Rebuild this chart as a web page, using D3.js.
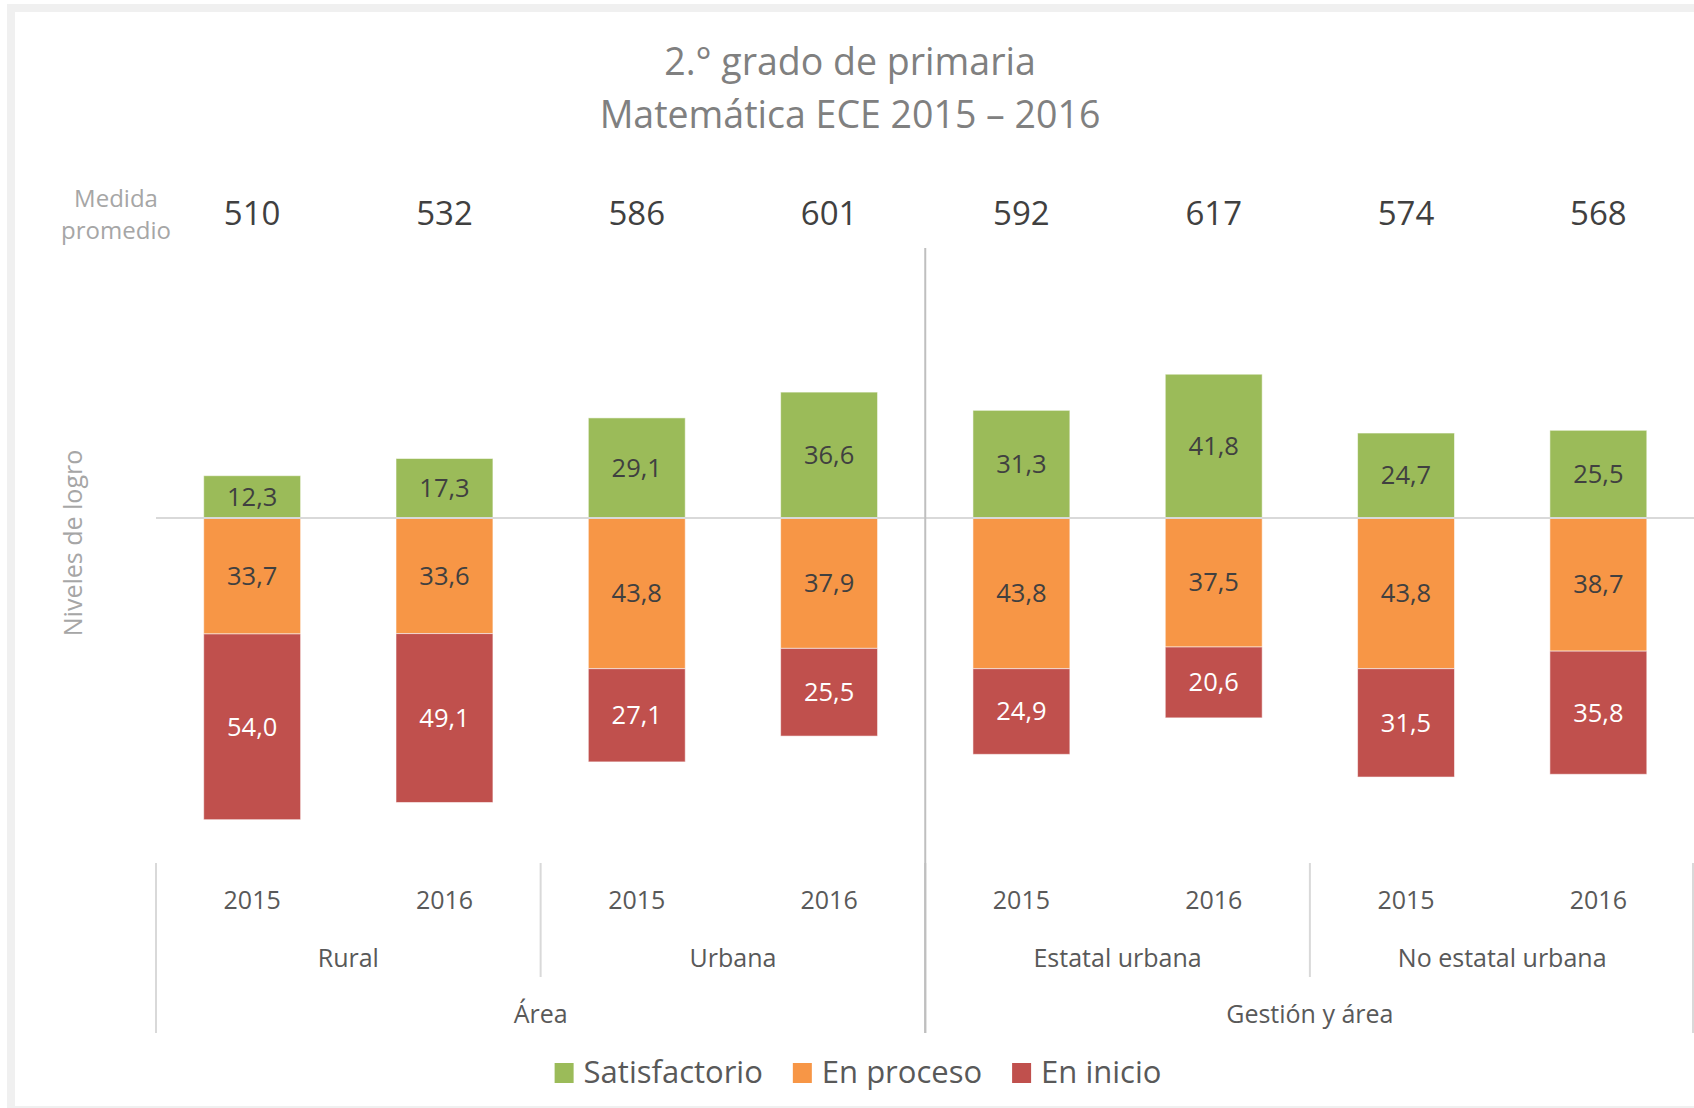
<!DOCTYPE html>
<html>
<head>
<meta charset="utf-8">
<script src="https://cdn.jsdelivr.net/npm/d3@7"></script>
<style>
  body { margin: 0; background: #fff; }
  text { font-family: "Open Sans", "Noto Sans", sans-serif; }
</style>
</head>
<body>
<div id="chart"></div>
<script>
// data
const years = ["2015", "2016", "2015", "2016", "2015", "2016", "2015", "2016"]
const subGroups = ["Rural", "Urbana", "Estatal urbana", "No estatal urbana"]
const topGroups = ["Área", "Gestión y área"]
const medida = [510, 532, 586, 601, 592, 617, 574, 568]
const satisfactorio = [12.3, 17.3, 29.1, 36.6, 31.3, 41.8, 24.7, 25.5]
const enProceso = [33.7, 33.6, 43.8, 37.9, 43.8, 37.5, 43.8, 38.7]
const enInicio = [54.0, 49.1, 27.1, 25.5, 24.9, 20.6, 31.5, 35.8]
const seriesNames = ["Satisfactorio", "En proceso", "En inicio"]
const colors = ["#9bbb59", "#f79646", "#c0504d"]

const W = 1694, H = 1108
const svg = d3.select("#chart").append("svg")
    .attr("width", W).attr("height", H)

// frame of the chart area (cut at right and bottom)
svg.append("rect")
    .attr("x", 11).attr("y", 8)
    .attr("width", 1720).attr("height", 1102)
    .attr("fill", "#fff")
    .attr("stroke", "#f0f0f0")
    .attr("stroke-width", 8)

// title
const title = svg.append("text")
    .attr("text-anchor", "middle")
    .attr("fill", "#808080")
    .style("font-size", "37.5px")
title.append("tspan").attr("x", 850).attr("y", 75).text("2.° grado de primaria")
title.append("tspan").attr("x", 850).attr("y", 128).text("Matemática ECE 2015 – 2016")

// scales
const idx = d3.range(years.length)
const x = d3.scaleBand()
    .domain(idx)
    .range([156, 1694.5])
    .paddingInner(0.496)
    .paddingOuter(0.248)
const y = d3.scaleLinear()
    .domain([-100, 60])
    .range([862, 311.6])
const step = x.step()
const bw = x.bandwidth()

// stacked data, achievement above the zero line, the rest below
const rows = idx.map(i => ({
    i: i,
    sat: satisfactorio[i],
    proc: -enProceso[i],
    ini: -enInicio[i]
}))
const keys = ["sat", "proc", "ini"]
const stacked = d3.stack()
    .keys(keys)
    .offset(d3.stackOffsetDiverging)(rows)

const layers = svg.append("g").selectAll("g")
    .data(stacked)
    .enter().append("g")
    .attr("fill", (d, k) => colors[k])

layers.selectAll("rect")
    .data(d => d)
    .enter().append("rect")
    .attr("x", d => x(d.data.i))
    .attr("width", bw)
    .attr("y", d => y(Math.max(d[0], d[1])))
    .attr("height", d => Math.abs(y(d[0]) - y(d[1])))
    .attr("stroke", "rgba(255,255,255,0.55)")
    .attr("stroke-width", 1)

// value labels
layers.selectAll("text")
    .data((d, k) => d.map(v => ({v: v, k: k})))
    .enter().append("text")
    .attr("x", d => x(d.v.data.i) + bw / 2)
    .attr("y", d => (y(d.v[0]) + y(d.v[1])) / 2)
    .attr("dy", "0.35em")
    .attr("text-anchor", "middle")
    .attr("fill", d => d.k === 2 ? "#ffffff" : "#404040")
    .style("font-size", "25.5px")
    .text(d => d3.format(".1f")(Math.abs(d.v[1] - d.v[0])).replace(".", ","))

// zero line
svg.append("line")
    .attr("x1", 156).attr("x2", W)
    .attr("y1", y(0)).attr("y2", y(0))
    .attr("stroke", "#d9d9d9")
    .attr("stroke-width", 2)

// divider between the two blocks
const midX = x(4) - step * x.paddingInner() / 2
svg.append("line")
    .attr("x1", midX).attr("x2", midX)
    .attr("y1", 248).attr("y2", 1033)
    .attr("stroke", "#bfbfbf")
    .attr("stroke-width", 2)

// medida promedio row
svg.append("g").selectAll("text")
    .data(medida)
    .enter().append("text")
    .attr("x", (d, i) => x(i) + bw / 2)
    .attr("y", 225)
    .attr("text-anchor", "middle")
    .attr("fill", "#404040")
    .style("font-size", "33px")
    .text(d => d)

const med = svg.append("text")
    .attr("text-anchor", "middle")
    .attr("fill", "#a6a6a6")
    .style("font-size", "24px")
med.append("tspan").attr("x", 116).attr("y", 207).text("Medida")
med.append("tspan").attr("x", 116).attr("y", 239).text("promedio")

// y axis title
svg.append("text")
    .attr("transform", "translate(82," + 543 + ") rotate(-90)")
    .attr("text-anchor", "middle")
    .attr("fill", "#a6a6a6")
    .style("font-size", "25px")
    .text("Niveles de logro")

// category axis: years
const xAxis = svg.append("g")
    .attr("transform", "translate(0,883)")
    .call(d3.axisBottom(x).tickSize(0).tickFormat(i => years[i]))
xAxis.select(".domain").remove()
xAxis.selectAll("text")
    .attr("y", 0)
    .attr("dy", "26px")
    .attr("fill", "#595959")
    .style("font-family", "'Open Sans', sans-serif")
    .style("font-size", "25px")

// group separators
const groupEdge = g => x(g * 2) - step * x.paddingInner() / 2
d3.range(subGroups.length + 1).forEach(g => {
    const gx = g === 4 ? 1693 : groupEdge(g)
    const long = g % 2 === 0
    svg.append("line")
        .attr("x1", gx).attr("x2", gx)
        .attr("y1", 863).attr("y2", long ? 1033 : 977)
        .attr("stroke", g === 2 ? "#bfbfbf" : "#d9d9d9")
        .attr("stroke-width", 2)
})

// second level labels
svg.append("g").selectAll("text")
    .data(subGroups)
    .enter().append("text")
    .attr("x", (d, g) => (x(g * 2) + x(g * 2 + 1) + bw) / 2)
    .attr("y", 967)
    .attr("text-anchor", "middle")
    .attr("fill", "#595959")
    .style("font-size", "25px")
    .text(d => d)

// top level labels
svg.append("g").selectAll("text")
    .data(topGroups)
    .enter().append("text")
    .attr("x", (d, t) => (x(t * 4) + x(t * 4 + 3) + bw) / 2)
    .attr("y", 1023)
    .attr("text-anchor", "middle")
    .attr("fill", "#595959")
    .style("font-size", "25px")
    .text(d => d)

// legend
const legend = svg.append("g")
let lx = 0
seriesNames.forEach((name, k) => {
    const item = legend.append("g").attr("transform", "translate(" + lx + ",0)")
    item.append("rect")
        .attr("x", 0).attr("y", -20)
        .attr("width", 19).attr("height", 20)
        .attr("fill", colors[k])
    const t = item.append("text")
        .attr("x", 29).attr("y", 0)
        .attr("fill", "#595959")
        .style("font-size", "31px")
        .text(name)
    lx += 29 + t.node().getComputedTextLength() + 30
})
const legendW = lx - 30
legend.attr("transform", "translate(" + (858 - legendW / 2) + ",1083)")
</script>
</body>
</html>
